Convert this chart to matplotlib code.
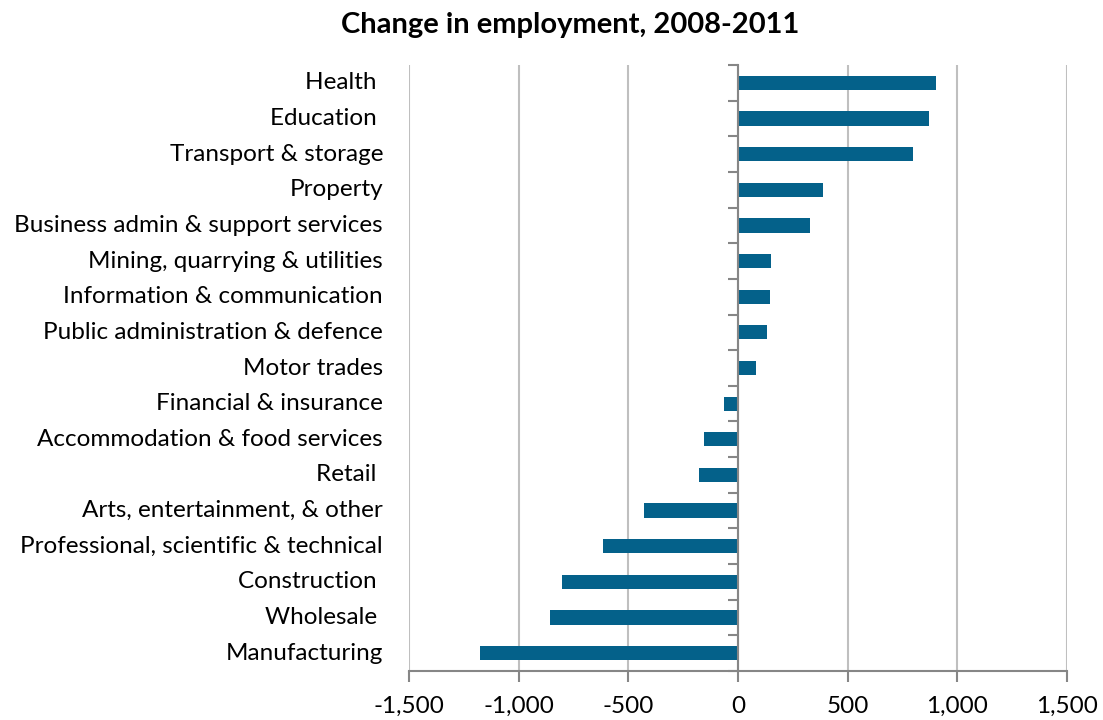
import matplotlib
matplotlib.use('Agg')
import numpy as np
from matplotlib import pyplot as plt
from matplotlib import transforms

# Категории сверху вниз
sectors = [
    'Health ', 'Education ', 'Transport & storage', 'Property',
    'Business admin & support services', 'Mining, quarrying & utilities',
    'Information & communication', 'Public administration & defence',
    'Motor trades', 'Financial & insurance', 'Accommodation & food services',
    'Retail ', 'Arts, entertainment, & other',
    'Professional, scientific & technical', 'Construction ', 'Wholesale ',
    'Manufacturing',
]
change = [903, 873, 799, 388, 327, 151, 146, 131, 80, -65, -157, -177,
          -427, -614, -801, -859, -1176]

x_ticks = [-1500, -1000, -500, 0, 500, 1000, 1500]
x_tick_labels = ['-1,500', '-1,000', '-500', '0', '500', '1,000', '1,500']

plt.rcParams['font.family'] = ['Lato', 'DejaVu Sans']

fig = plt.figure(figsize=(11.03, 7.2), dpi=100)
ax = fig.add_axes([409 / 1103, 49 / 720, 658 / 1103, 606 / 720])

n = len(sectors)
y = np.arange(n)
ax.barh(y, change, height=0.4, color='#04618A', zorder=3)

ax.set_xlim(-1500, 1500)
ax.set_ylim(n - 0.5, -0.5)

# Сетка и оси
ax.set_xticks(x_ticks)
ax.set_xticklabels(x_tick_labels, fontsize=17.5)
ax.grid(axis='x', color='#BFBFBF', linewidth=1.5, zorder=0)
ax.tick_params(axis='x', length=8, width=1.5, color='#868686', pad=10)

for side in ['top', 'right']:
    ax.spines[side].set_visible(False)
ax.spines['bottom'].set_color('#868686')
ax.spines['bottom'].set_linewidth(1.5)
ax.spines['left'].set_position(('data', 0))
ax.spines['left'].set_color('#868686')
ax.spines['left'].set_linewidth(1.5)
ax.spines['left'].set_zorder(4)

# Засечки между категориями на нулевой оси
ax.set_yticks(np.arange(n + 1) - 0.5)
ax.set_yticklabels([])
ax.tick_params(axis='y', length=7, width=1.5, color='#868686')

# Подписи категорий слева от области графика
trans = transforms.blended_transform_factory(fig.transFigure, ax.transData)
for i, name in enumerate(sectors):
    ax.text(383 / 1103, i, name, transform=trans, ha='right', va='center',
            fontsize=17.5, color='#000000')

fig.text(570 / 1103, 1 - 25 / 720, 'Change in employment, 2008-2011',
         ha='center', va='center', fontsize=21, fontweight='bold')

fig.savefig('out.png', dpi=100)
plt.close(fig)
